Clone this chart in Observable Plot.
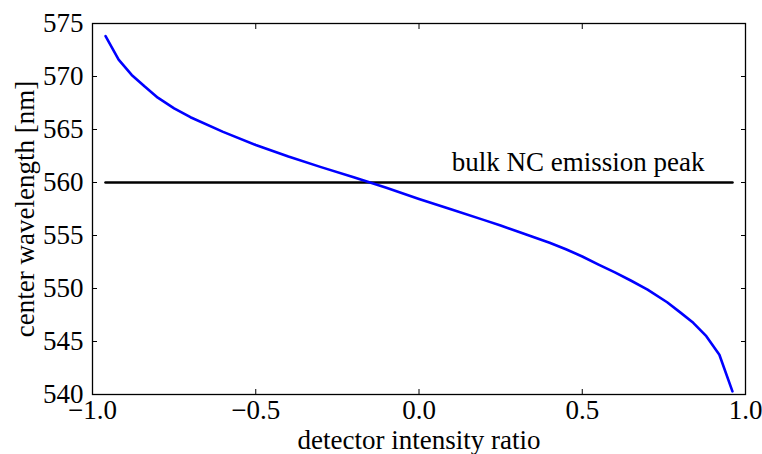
<!DOCTYPE html>
<html>
<head>
<meta charset="utf-8">
<script src="https://cdn.jsdelivr.net/npm/d3@7"></script>
<script src="https://cdn.jsdelivr.net/npm/@observablehq/plot@0.6"></script>
<style>
  html, body { margin: 0; padding: 0; background: #fff; }
  svg, svg text, svg g { font-family: 'Liberation Serif', 'Times New Roman', serif !important; font-variant: normal !important; font-variant-numeric: normal !important; }
</style>
</head>
<body>
<div id="chart"></div>
<script>
// detector intensity ratio (x) vs. center wavelength in nm (y)
const ratio = [-0.96, -0.92, -0.88, -0.84, -0.80, -0.75, -0.70, -0.60, -0.50, -0.40, -0.30, -0.20, -0.15, -0.10, 0.00, 0.05, 0.10, 0.20, 0.25, 0.30, 0.35, 0.40, 0.45, 0.50, 0.55, 0.60, 0.65, 0.70, 0.76, 0.80, 0.84, 0.88, 0.92, 0.96];
const wavelength = [573.8, 571.6, 570.15, 569.05, 568.0, 567.0, 566.16, 564.78, 563.54, 562.45, 561.45, 560.5, 560.0, 559.5, 558.45, 557.95, 557.45, 556.45, 555.94, 555.4, 554.86, 554.32, 553.7, 553.02, 552.25, 551.52, 550.73, 549.9, 548.7, 547.75, 546.76, 545.5, 543.75, 540.3];

// bulk NC emission peak reference line
const peakX = [-0.96, 0.96];
const peakY = [560, 560];
const peakLabel = ["bulk NC emission peak"];
const labelX = [0.1];
const labelY = [561.13];

const xTicks = [-1.0, -0.5, 0.0, 0.5, 1.0];
const yTicks = [540, 545, 550, 555, 560, 565, 570, 575];
const xLabel = ["detector intensity ratio"];
const yLabel = ["center wavelength [nm]"];

const curve = ratio.map((r, i) => ({r, w: wavelength[i]}));
const peak = peakX.map((x, i) => ({x, y: peakY[i]}));
const annot = peakLabel.map((t, i) => ({t, x: labelX[i], y: labelY[i]}));

const serif = "Liberation Serif";
const fmt = d3.format(".1f");
const empty = () => "";

const chart = Plot.plot({
  width: 762,
  height: 454,
  marginLeft: 92,
  marginRight: 17,
  marginTop: 23,
  marginBottom: 60,
  style: {fontFamily: serif, fontSize: "27px", color: "black", background: "white"},
  x: {domain: [-1, 1], label: null},
  y: {domain: [540, 575], label: null},
  marks: [
    Plot.line(peak, {x: "x", y: "y", stroke: "black", strokeWidth: 2.7}),
    Plot.line(curve, {x: "r", y: "w", stroke: "#0000ff", strokeWidth: 2.6}),
    Plot.text(annot, {x: "x", y: "y", text: "t", textAnchor: "start", lineAnchor: "bottom", fontSize: 27, fontFamily: serif, fill: "black"}),
    Plot.axisX(xTicks, {anchor: "bottom", tickSize: -5, tickPadding: 10, tickFormat: fmt, label: null, stroke: "black", fill: "black", fontSize: 27, fontFamily: serif, fontVariant: "normal"}),
    Plot.axisX(xTicks, {anchor: "top", tickSize: -5, tickFormat: empty, label: null, stroke: "black"}),
    Plot.axisY(yTicks, {anchor: "left", tickSize: -5, tickPadding: 14, tickFormat: d3.format("d"), label: null, stroke: "black", fill: "black", fontSize: 27, fontFamily: serif, fontVariant: "normal"}),
    Plot.axisY(yTicks, {anchor: "right", tickSize: -5, tickFormat: empty, label: null, stroke: "black"}),
    Plot.frame({stroke: "black", strokeWidth: 1.3}),
    Plot.text(xLabel, {frameAnchor: "bottom", dy: 54, textAnchor: "middle", lineAnchor: "bottom", fontSize: 27, fontFamily: serif, fill: "black"}),
    Plot.text(yLabel, {frameAnchor: "left", dx: -59, rotate: -90, textAnchor: "middle", lineAnchor: "bottom", fontSize: 27, fontFamily: serif, fill: "black"})
  ]
});
document.getElementById("chart").appendChild(chart);
</script>
</body>
</html>
